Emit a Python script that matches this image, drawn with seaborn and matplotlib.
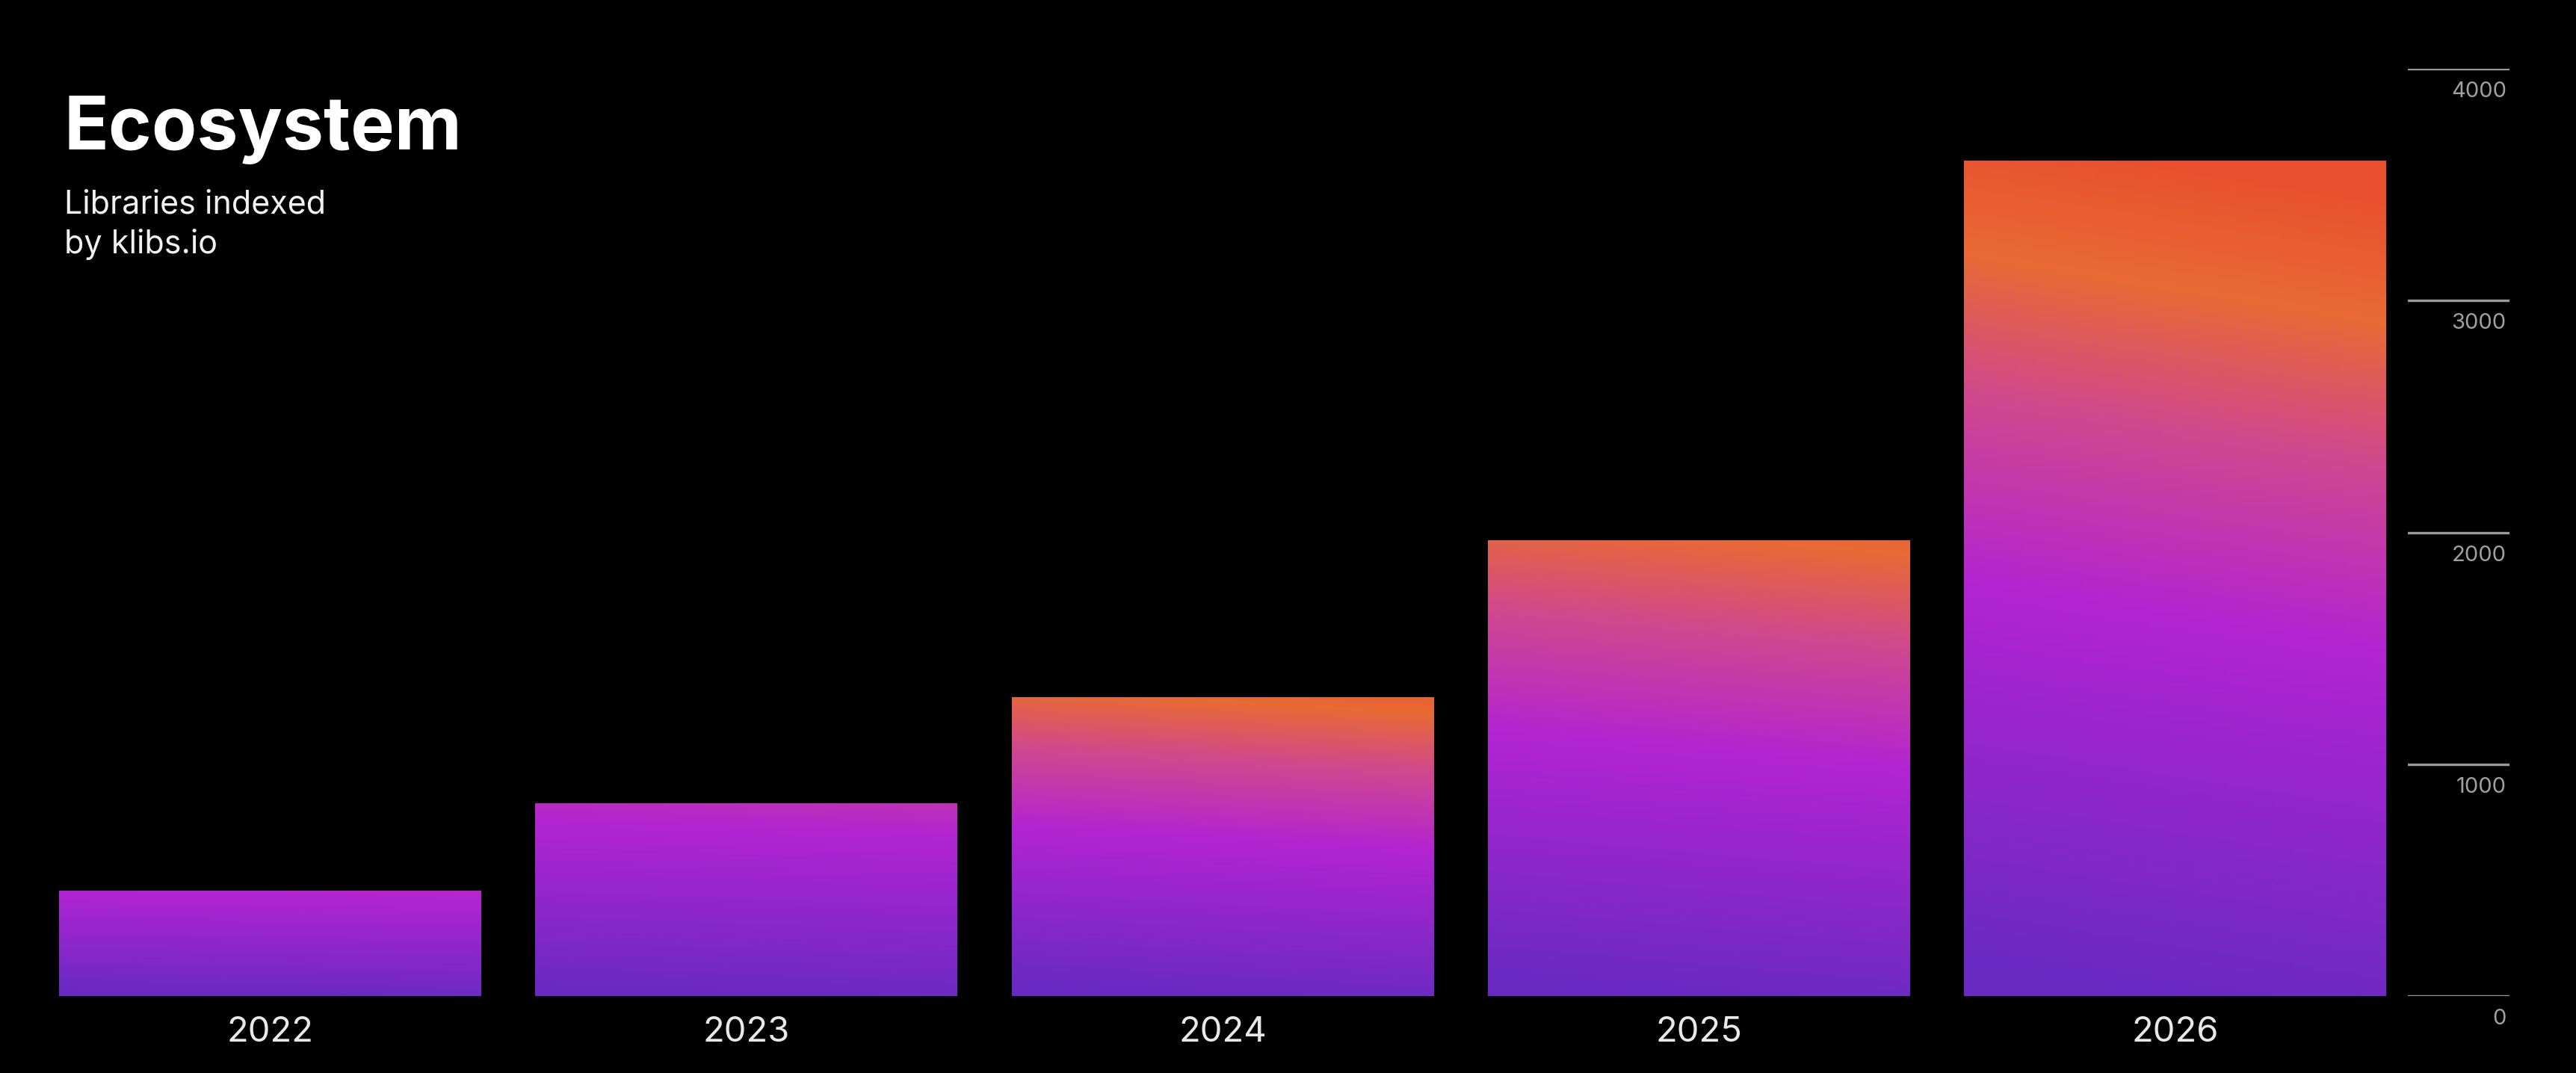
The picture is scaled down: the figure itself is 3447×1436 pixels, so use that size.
import matplotlib
matplotlib.use("Agg")
import matplotlib.pyplot as plt
import seaborn as sns
import numpy as np
import pandas as pd
from matplotlib.colors import LinearSegmentedColormap

years = ["2022", "2023", "2024", "2025", "2026"]
libraries = [455, 830, 1290, 1965, 3605]
ticks = [0, 1000, 2000, 3000, 4000]
# colour span reached at the top of each bar (style)
grad_top = [0.47, 0.52, 0.86, 0.84, 1.0]

sns.set_theme(style="dark")
plt.rcParams['font.family'] = ['Inter', 'DejaVu Sans']

W, H = 3448, 1436
fig = plt.figure(figsize=(W/200, H/200), dpi=200, facecolor="black")
dw, dh = 1568, 653
def fx(x): return x/dw
def fy(y): return 1 - y/dh

ax = fig.add_axes([fx(36), fy(606), fx(1452-36), fy(42)-fy(606)])
ax.set_facecolor("black")
df = pd.DataFrame({"year": years, "libs": libraries})
sns.barplot(data=df, x="year", y="libs", ax=ax, width=0.886, color="#b026d0")
for s in ax.spines.values():
    s.set_visible(False)
ax.set_xlabel(""); ax.set_ylabel("")
ax.set_yticks([])
ax.tick_params(axis="x", colors="#e8e8e8", labelsize=17, length=0, pad=10)
ax.grid(False)

cmap = LinearSegmentedColormap.from_list("g", [(0, "#6a2ac2"), (0.45, "#b224d2"),
                                              (0.68, "#d0488e"), (0.85, "#e86a34"), (1, "#e8502f")])
base = np.linspace(0, 1, 256).reshape(-1, 1)
tilt = np.linspace(-0.04, 0.04, 64).reshape(1, -1)
for p, gt in zip(list(ax.patches), grad_top):
    x0, y0, w, h = p.get_x(), p.get_y(), p.get_width(), p.get_height()
    g = np.clip(base * gt + tilt * gt, 0, 1)
    im = ax.imshow(g, extent=[x0, x0+w, y0, y0+h], origin="lower",
                   aspect="auto", cmap=cmap, vmin=0, vmax=1, zorder=3)
    im.set_clip_path(p)
    p.set_facecolor("none"); p.set_edgecolor("none")
ax.set_xlim(-0.443, 4.443); ax.set_ylim(0, 4000)

tax = fig.add_axes([fx(1465), fy(606), fx(1527-1465), fy(42)-fy(606)], facecolor="none")
tax.set_ylim(0, 4000); tax.set_xlim(0, 1); tax.axis("off")
for t in ticks:
    tax.axhline(t, color="#9a9a9a", lw=1.2)
    tax.text(0.97, t-55, str(t), ha="right", va="top", color="#a0a0a0", fontsize=10.5)

fig.text(fx(39), fy(91), "Ecosystem", color="white", fontsize=35.5, fontweight="bold", va="baseline")
fig.text(fx(39), fy(130), "Libraries indexed", color="#f0f0f0", fontsize=15.5, va="baseline")
fig.text(fx(39), fy(154), "by klibs.io", color="#f0f0f0", fontsize=15.5, va="baseline")

fig.savefig("out.png", facecolor="black")
